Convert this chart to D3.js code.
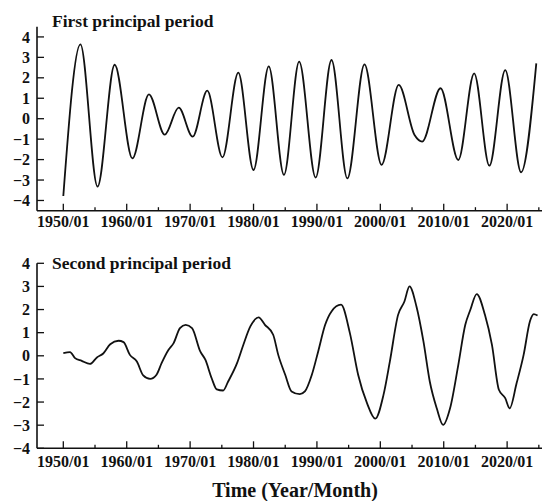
<!DOCTYPE html>
<html>
<head>
<meta charset="utf-8">
<script src="https://cdn.jsdelivr.net/npm/d3@7"></script>
<style>
  html, body { margin: 0; padding: 0; background: #fff; }
</style>
</head>
<body>
<svg id="chart" width="542" height="501" font-family="'Liberation Serif', 'Times New Roman', Times, serif" font-weight="bold"></svg>
<script>
// --- Datos ---
const majorTicks = [1950, 1960, 1970, 1980, 1990, 2000, 2010, 2020];
const minorTicks = [1955, 1965, 1975, 1985, 1995, 2005, 2015, 2025];
const tickLabels = ["1950/01", "1960/01", "1970/01", "1980/01", "1990/01", "2000/01", "2010/01", "2020/01"];
const yTicks = [-4, -3, -2, -1, 0, 1, 2, 3, 4];

// primer periodo principal (extremos)
const firstYears = [1950.0, 1952.7, 1955.4, 1958.1, 1960.9, 1963.5, 1966.0, 1968.2, 1970.4, 1972.7,
  1975.1, 1977.6, 1980.0, 1982.4, 1984.8, 1987.2, 1989.8, 1992.3, 1994.8, 1997.5,
  2000.2, 2002.9, 2005.4, 2006.6, 2009.5, 2012.3, 2014.8, 2017.2, 2019.7, 2022.2, 2024.6];
const firstValues = [-3.78, 3.64, -3.32, 2.64, -1.94, 1.19, -0.78, 0.54, -0.88, 1.37,
  -1.89, 2.25, -2.51, 2.56, -2.75, 2.79, -2.88, 2.87, -2.92, 2.66,
  -2.26, 1.65, -0.80, -1.12, 1.49, -2.02, 2.22, -2.30, 2.38, -2.62, 2.71];

// segundo periodo principal
const secondYears = [1950.0, 1951.06, 1951.85, 1952.9, 1954.2, 1955.3, 1956.3, 1957.4, 1958.7, 1959.5,
  1960.5, 1961.6, 1962.6, 1963.7, 1964.7, 1965.5, 1966.6, 1967.4, 1968.4, 1969.3,
  1970.3, 1971.6, 1972.4, 1973.4, 1974.2, 1975.2, 1976.0, 1977.4, 1978.4, 1979.5,
  1980.8, 1981.8, 1983.1, 1983.9, 1985.0, 1986.0, 1987.3, 1988.1, 1989.2, 1990.2,
  1991.3, 1992.3, 1993.8, 1995.2, 1996.5, 1997.9, 1999.2, 2000.5, 2001.5, 2002.8,
  2003.8, 2004.6, 2005.7, 2006.8, 2007.8, 2008.9, 2009.9, 2011.0, 2012.3, 2013.4,
  2014.2, 2015.2, 2016.5, 2017.6, 2018.7, 2019.7, 2020.4, 2021.5, 2022.6, 2023.6,
  2024.2, 2024.8];
const secondValues = [0.12, 0.16, -0.10, -0.22, -0.35, -0.07, 0.10, 0.50, 0.65, 0.59,
  0.04, -0.25, -0.85, -1.00, -0.82, -0.32, 0.26, 0.55, 1.20, 1.34,
  1.20, 0.19, -0.17, -0.97, -1.45, -1.50, -1.11, -0.32, 0.48, 1.27,
  1.66, 1.34, 0.91, 0.04, -0.82, -1.54, -1.66, -1.54, -0.82, 0.19,
  1.34, 1.92, 2.21, 0.98, -0.82, -2.05, -2.72, -1.69, -0.25, 1.77,
  2.35, 3.00, 2.13, 0.62, -1.11, -2.27, -2.99, -2.27, -0.39, 1.34,
  1.99, 2.67, 1.77, 0.48, -1.47, -1.83, -2.27, -1.18, 0.04, 1.49,
  1.80, 1.74];

// --- Configuración ---
const svg = d3.select("#chart");
const x = d3.scaleLinear().domain([1945.85, 2025.5]).range([37, 542]);

const panels = [
  { title: "First principal period", years: firstYears, values: firstValues,
    y: d3.scaleLinear().domain([-4.5, 4.5]).range([210.7, 26.7]), titleY: 27,
    labelY: 226.5 },
  { title: "Second principal period", years: secondYears, values: secondValues,
    y: d3.scaleLinear().domain([-4, 4]).range([448.3, 263.3]), titleY: 268.5,
    labelY: 467 }
];

panels.forEach(p => {
  const g = svg.append("g");
  const [y0, y1] = p.y.range();

  // ejes
  g.append("line").attr("x1", x.range()[0]).attr("x2", x.range()[0])
    .attr("y1", y0).attr("y2", y1).attr("stroke", "#111").attr("stroke-width", 1.6);
  g.append("line").attr("x1", x.range()[0]).attr("x2", x.range()[1])
    .attr("y1", y0).attr("y2", y0).attr("stroke", "#111").attr("stroke-width", 1.6);

  // ticks Y (hacia dentro)
  g.selectAll(".yt").data(yTicks).enter().append("line")
    .attr("x1", x.range()[0]).attr("x2", x.range()[0] + 7)
    .attr("y1", d => p.y(d)).attr("y2", d => p.y(d))
    .attr("stroke", "#111").attr("stroke-width", 1.3);
  g.selectAll(".yl").data(yTicks).enter().append("text")
    .attr("x", 30).attr("y", d => p.y(d)).attr("dy", "0.35em")
    .attr("text-anchor", "end").attr("font-size", 16).attr("fill", "#111")
    .text(d => d < 0 ? "\u2212" + Math.abs(d) : d);

  // ticks X
  g.selectAll(".xt").data(majorTicks).enter().append("line")
    .attr("x1", d => x(d)).attr("x2", d => x(d))
    .attr("y1", y0).attr("y2", y0 - 7)
    .attr("stroke", "#111").attr("stroke-width", 1.3);
  g.selectAll(".xm").data(minorTicks).enter().append("line")
    .attr("x1", d => x(d)).attr("x2", d => x(d))
    .attr("y1", y0).attr("y2", y0 - 3.5)
    .attr("stroke", "#111").attr("stroke-width", 1.3);
  g.selectAll(".xl").data(majorTicks).enter().append("text")
    .attr("x", d => x(d)).attr("y", p.labelY)
    .attr("text-anchor", "middle").attr("font-size", 16).attr("fill", "#111")
    .text((d, i) => tickLabels[i]);

  // título del panel
  g.append("text").attr("x", 52).attr("y", p.titleY)
    .attr("font-size", 17.5).attr("fill", "#111").text(p.title);

  // serie
  const line = d3.line()
    .x(d => x(d[0]))
    .y(d => p.y(d[1]))
    .curve(d3.curveMonotoneX);
  g.append("path")
    .datum(p.years.map((yr, i) => [yr, p.values[i]]))
    .attr("d", line)
    .attr("fill", "none").attr("stroke", "#111").attr("stroke-width", 1.8)
    .attr("stroke-linejoin", "round");
});

svg.append("text").attr("x", 295).attr("y", 497)
  .attr("text-anchor", "middle").attr("font-size", 20).attr("fill", "#111")
  .text("Time (Year/Month)");
</script>
</body>
</html>
